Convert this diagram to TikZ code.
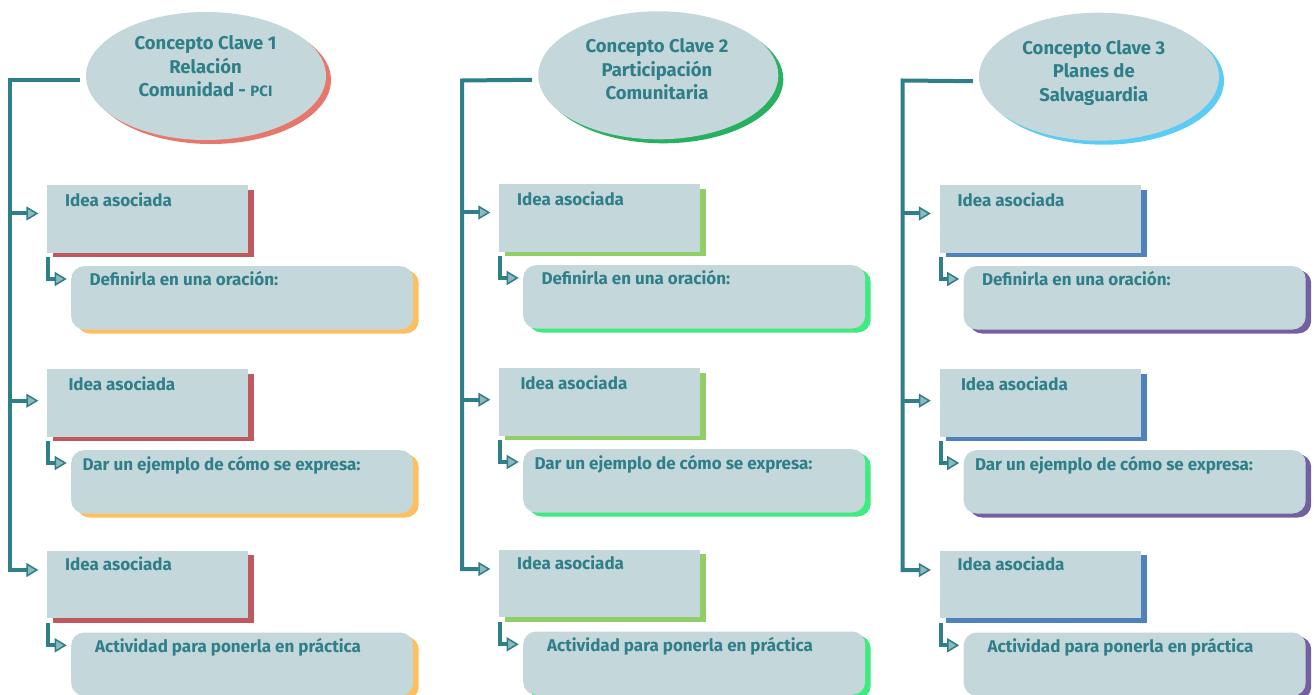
\documentclass[tikz,border=0pt]{standalone}
\usepackage{fontspec}
\setmainfont{Fira Sans}
\usetikzlibrary{shapes.geometric,shadows,arrows.meta,calc}
\definecolor{boxfill}{HTML}{C4D7DB}
\definecolor{tealline}{HTML}{2F7F89}
\definecolor{redE}{HTML}{E8776B}
\definecolor{redI}{HTML}{C0595F}
\definecolor{orgS}{HTML}{FFBF5E}
\definecolor{grnE}{HTML}{27B060}
\definecolor{grnI}{HTML}{92CE66}
\definecolor{grnS}{HTML}{3DEB7F}
\definecolor{bluE}{HTML}{5BCDF5}
\definecolor{bluI}{HTML}{4F81BD}
\definecolor{purS}{HTML}{7460A0}
\colorlet{arrfill}{tealline!35!boxfill}
\tikzset{
  conn/.style={draw=tealline,line width=4pt},
  arr/.style={-{Triangle[length=12pt,width=14pt,fill=arrfill,line width=1.5pt]}},
  concept/.style={ellipse,fill=boxfill,minimum width=240pt,minimum height=128pt,inner sep=0pt},
  ideabox/.style={rectangle,fill=boxfill,minimum width=201pt,minimum height=67.3pt,inner sep=0pt,anchor=north west},
  subbox/.style={rectangle,rounded corners=13pt,fill=boxfill,minimum width=342pt,minimum height=63.3pt,inner sep=0pt,anchor=north west},
  lbl/.style={text=tealline,font=\bfseries\fontsize{17}{20}\selectfont,inner sep=0pt,anchor=base west},
  ctitle/.style={text=tealline,font=\bfseries\fontsize{18.5}{21}\selectfont,inner sep=0pt,anchor=base},
}
\begin{document}
\begin{tikzpicture}[x=1pt,y=-1pt]
\clip (0,0) rectangle (1314,695);
\fill[white] (0,0) rectangle (1314,695);
\foreach \n/\dx/\dy/\ecx/\ecy/\tcx/\tby/\cE/\cI/\cS/\la/\lb/\lc in {
  1/0/0/206/76/205.5/50/redE/redI/orgS/Concepto Clave 1/Relación/Comunidad - {\fontsize{15}{15}\selectfont PCI},
  2/452/-1/658.3/75.3/657/52.7/grnE/grnI/grnS/Concepto Clave 2/Participación/Comunitaria,
  3/892.5/0/1099/76.7/1093.8/54.3/bluE/bluI/purS/Concepto Clave 3/Planes de/Salvaguardia}
{
  % concept ellipse
  \node[concept,general shadow={fill=\cE,shadow xshift=5pt,shadow yshift=-4pt}] (c\n) at (\ecx,\ecy) {};
  \node[ctitle] (ct\n a) at (\tcx,\tby) {\la};
  \node[ctitle] (ct\n b) at (\tcx,\tby+23.4) {\lb};
  \node[ctitle] (ct\n c) at (\tcx,\tby+46.8) {\lc};
  % idea boxes
  \node[ideabox,general shadow={fill=\cI,shadow xshift=6pt,shadow yshift=-4.4pt}] (ia\n) at (47+\dx,185+\dy) {};
  \node[ideabox,general shadow={fill=\cI,shadow xshift=6pt,shadow yshift=-4.4pt}] (ib\n) at (47+\dx,369+\dy) {};
  \node[ideabox,general shadow={fill=\cI,shadow xshift=6pt,shadow yshift=-4.4pt}] (ic\n) at (47+\dx,550.7+\dy) {};
  % sub boxes
  \node[subbox,general shadow={fill=\cS,shadow xshift=5.5pt,shadow yshift=-4pt}] (sa\n) at (71+\dx,266+\dy) {};
  \node[subbox,general shadow={fill=\cS,shadow xshift=5.5pt,shadow yshift=-4pt}] (sb\n) at (71+\dx,450+\dy) {};
  \node[subbox,general shadow={fill=\cS,shadow xshift=5.5pt,shadow yshift=-4pt}] (sc\n) at (71+\dx,632.3+\dy) {};
  % labels
  \node[lbl] (la\n) at (65+\dx,207+\dy) {Idea asociada};
  \node[lbl] (lb\n) at (68.3+\dx,390+\dy) {Idea asociada};
  \node[lbl] (lc\n) at (65+\dx,570+\dy) {Idea asociada};
  \node[lbl] (ma\n) at (89.3+\dx,285+\dy) {Definirla en una oración:};
  \node[lbl] (mb\n) at (82.3+\dx,470+\dy) {Dar un ejemplo de cómo se expresa:};
  \node[lbl] (mc\n) at (95+\dx,652+\dy) {Actividad para ponerla en práctica};
  % connectors
  \coordinate (e\n) at ([shift={(-6,4.5)}]c\n.west);
  \coordinate (v\n) at (10+\dx,80.5);
  \coordinate (ta\n) at (38.3+\dx,213.5+\dy);
  \coordinate (tb\n) at (38.3+\dx,400.7+\dy);
  \coordinate (tc\n) at (38.3+\dx,570+\dy);
  \draw[conn,arr] (e\n) -- (v\n) |- (tc\n);
  \draw[conn,arr] (v\n |- ta\n) -- (ta\n);
  \draw[conn,arr] (v\n |- tb\n) -- (tb\n);
  \draw[conn,arr] ([shift={(1,4.5)}]ia\n.south west) |- ([shift={(-4.3,13)}]sa\n.north west);
  \draw[conn,arr] ([shift={(1,4.5)}]ib\n.south west) |- ([shift={(-4.3,13)}]sb\n.north west);
  \draw[conn,arr] ([shift={(1,4.5)}]ic\n.south west) |- ([shift={(-4.3,13)}]sc\n.north west);
}
\end{tikzpicture}
\end{document}
